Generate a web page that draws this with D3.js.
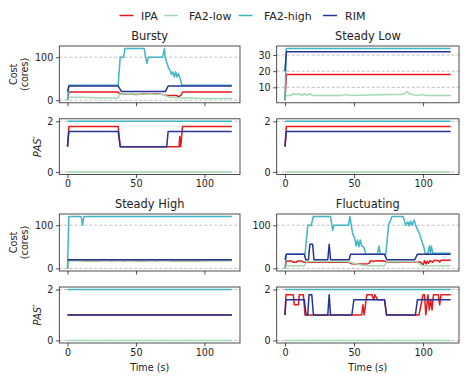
<!DOCTYPE html>
<html>
<head>
<meta charset="utf-8">
<script src="https://cdn.jsdelivr.net/npm/d3@7"></script>
<style>
  body { margin: 0; background: #fff; }
  svg { font-family: "DejaVu Sans", sans-serif; }
</style>
</head>
<body>
<div id="chart"></div>
<script>
// methods, colours, titles, ticks
const methods = ["IPA", "FA2-low", "FA2-high", "RIM"];
const methodColors = ["#e41a1c", "#a1dab4", "#41b6c4", "#253494"];
const scenarioTitles = ["Bursty", "Steady Low", "Steady High", "Fluctuating"];
const timeTicks = [0, 50, 100];
const costTicks = [0, 100];
const costTicksSteadyLow = [10, 20, 30];
const pasTicks = [0, 2];

// [time (s), value] pairs
// Bursty
const burstyCostIPA = [[0,1],[1,19],[37,19],[38,15],[42,14],[46,15],[50,13],[55,15],[60,14],[65,15],[70,13],[72,11],[80,11],[81,7],[82,10],[83,12],[84,19],[120,19]];
const burstyCostLow = [[0,0],[1,7],[10,7],[20,6],[30,5],[37,5],[38,14],[45,15],[55,14],[65,14],[70,13],[74,7],[80,6],[88,5],[100,4],[120,4]];
const burstyCostHigh = [[0,0],[1,35],[37,35],[38.5,100],[41,100],[42,120],[56,120],[57,100],[58,86],[59,100],[69.5,100],[70.8,120],[71.3,100],[72.5,88],[73.7,76],[75,69],[76,60],[77,66],[78,54],[79,66],[80,54],[81,62],[82.3,50],[83.5,35],[120,35]];
const burstyCostRIM = [[0,20],[1,33],[37,33],[39.5,20],[71.5,20],[73.5,33],[120,33]];
const burstyPasIPA = [[0,1],[1,1.8],[37,1.8],[38.5,1],[81.5,1],[82,1.4],[82.7,1],[84,1.8],[120,1.8]];
const burstyPasLow = [[0,0],[120,0]];
const burstyPasHigh = [[0,2],[120,2]];
const burstyPasRIM = [[0,1],[1,1.6],[37,1.6],[38.5,1],[72.5,1],[73.5,1.6],[120,1.6]];

// Steady Low
const steadyLowCostIPA = [[0,2],[1,18],[120,18]];
const steadyLowCostLow = [[0,3],[1,5],[4,5],[6,6],[8,5.5],[10,6],[12,5],[14,6],[16,5],[18,6],[20,5],[40,5],[45,5.5],[47,5],[60,5.2],[78,5.5],[85,5.5],[87,6.5],[88.5,7.5],[90,6],[92,5.5],[96,5],[100,5.5],[102,5],[120,5]];
const steadyLowCostHigh = [[0,2],[1,34],[120,34]];
const steadyLowCostRIM = [[0,20],[1,32],[120,32]];
const steadyLowPasIPA = [[0,1],[1,1.8],[120,1.8]];
const steadyLowPasLow = [[0,0],[120,0]];
const steadyLowPasHigh = [[0,2],[120,2]];
const steadyLowPasRIM = [[0,1],[1,1.6],[120,1.6]];

// Steady High
const steadyHighCostIPA = [[0,0],[1,19],[10,19],[11,17],[23,17],[24,19],[31,19],[31.5,17],[33,17],[33.5,19],[39.5,19],[40,17],[42,17],[42.5,19],[49,19],[49.5,17],[58,17],[58.5,19],[64,19],[64.5,17],[66,17],[66.5,19],[75,19],[75.5,17],[97,17],[97.5,19],[120,19]];
const steadyHighCostLow = [[0,0],[1,17],[120,17]];
const steadyHighCostHigh = [[0,0],[1,120],[10,120],[11,100],[12,120],[120,120]];
const steadyHighCostRIM = [[0,20],[120,20]];
const steadyHighPasIPA = [[0,1],[120,1]];
const steadyHighPasLow = [[0,0],[120,0]];
const steadyHighPasHigh = [[0,2],[120,2]];
const steadyHighPasRIM = [[0,1],[120,1]];

// Fluctuating
const flucCostIPA = [[0,0],[1,17],[5,17],[6,14],[8,14],[9,17],[12,17],[13,15],[15,14],[20,15],[30,14],[40,15],[46,14],[48,11],[52,10],[56,10],[60,11],[61,12],[62,18],[64,16],[66,18],[68,17],[70,18],[72,17],[74,15],[95,15],[98,15],[100,8],[101,18],[102,10],[103,17],[104,12],[105,18],[107,14],[108,19],[111,18],[112,15],[113,19],[120,19]];
const flucCostLow = [[0,0],[1,6],[14,6],[16,16],[45,16],[50,12],[55,8],[58,6],[72,6],[74,16],[95,16],[98,9],[100,6],[120,6]];
const flucCostHigh = [[0,0],[1,33],[14.5,33],[16.5,100],[19,100],[20.5,120],[33,120],[34.5,88],[35.5,100],[46,100],[47,120],[48,100],[49,80],[50.5,70],[51.5,52],[52.5,66],[53.5,50],[54.5,66],[55.5,52],[57,50],[58.5,33],[67,33],[68,52],[69,33],[73,33],[75,100],[77.5,120],[85.5,120],[87.5,100],[89,108],[90,98],[91,110],[92,100],[93.5,112],[95,96],[97.5,80],[99.3,60],[100.5,50],[101.5,35],[103.5,35],[104.5,52],[105.3,35],[106,52],[107,35],[120,35]];
const flucCostRIM = [[0,20],[1,33],[14,33],[15,20],[17,20],[18,56],[20,56],[21,20],[31,20],[32,56],[33,20],[46.5,20],[47.5,33],[72,33],[73.8,20],[94,20],[95.9,33],[120,33]];
const flucPasIPA = [[0,1],[0.7,1.8],[6,1.8],[6.8,1.4],[9.7,1.4],[10.4,1.8],[13.3,1.8],[14.5,1],[55.5,1],[56.5,1.4],[57.3,1],[59.3,1.8],[63,1.8],[64.2,1.6],[65,1.8],[67,1.6],[72,1.6],[73.5,1],[97,1],[100,1.8],[101,1.8],[102,1],[103.5,1.8],[104.5,1.2],[105.5,1.6],[106.5,1.2],[107.5,1.8],[111,1.8],[112,1.4],[113,1.8],[120,1.8]];
const flucPasLow = [[0,0],[120,0]];
const flucPasHigh = [[0,2],[120,2]];
const flucPasRIM = [[0,1],[0.7,1.6],[14,1.6],[15.3,1],[16.5,1],[17.4,1.8],[19.4,1.8],[20.6,1],[31,1],[32,1.8],[33,1],[48.4,1],[49.9,1.6],[72.1,1.6],[73.6,1],[94.4,1],[95.9,1.6],[120,1.6]];

const scenarios = [
  { title: scenarioTitles[0], col: 0, row: 0, costTicks: costTicks,
    cost: [burstyCostIPA, burstyCostLow, burstyCostHigh, burstyCostRIM],
    pas: [burstyPasIPA, burstyPasLow, burstyPasHigh, burstyPasRIM] },
  { title: scenarioTitles[1], col: 1, row: 0, costTicks: costTicksSteadyLow,
    cost: [steadyLowCostIPA, steadyLowCostLow, steadyLowCostHigh, steadyLowCostRIM],
    pas: [steadyLowPasIPA, steadyLowPasLow, steadyLowPasHigh, steadyLowPasRIM] },
  { title: scenarioTitles[2], col: 0, row: 1, costTicks: costTicks,
    cost: [steadyHighCostIPA, steadyHighCostLow, steadyHighCostHigh, steadyHighCostRIM],
    pas: [steadyHighPasIPA, steadyHighPasLow, steadyHighPasHigh, steadyHighPasRIM] },
  { title: scenarioTitles[3], col: 1, row: 1, costTicks: costTicks,
    cost: [flucCostIPA, flucCostLow, flucCostHigh, flucCostRIM],
    pas: [flucPasIPA, flucPasLow, flucPasHigh, flucPasRIM] }
];

// layout
const width = 465, height = 381;
const colX = [[59.3, 240], [276.7, 459]];
const rowY = [{ cost: [46, 102.8], pas: [118.8, 174.5] },
              { cost: [214, 271], pas: [287, 343] }];
const tickFont = 9.6;

const svg = d3.select("#chart").append("svg")
  .attr("width", width)
  .attr("height", height);

// matplotlib style margins: 5% either side
function padded(lo, hi) {
  const m = (hi - lo) * 0.05;
  return [lo - m, hi + m];
}

function drawPanel(x0, x1, y0, y1, yDomain, yTicks, series, showXLabels) {
  const g = svg.append("g");
  const x = d3.scaleLinear().domain(padded(0, 120)).range([x0, x1]);
  const y = d3.scaleLinear().domain(yDomain).range([y1, y0]);

  // dashed grid
  g.selectAll(".grid")
    .data(yTicks)
    .enter()
    .append("line")
    .attr("x1", x0).attr("x2", x1)
    .attr("y1", d => y(d)).attr("y2", d => y(d))
    .attr("stroke", "#b0b0b0")
    .attr("stroke-width", 0.8)
    .attr("stroke-dasharray", "3,2");

  const line = d3.line().x(d => x(d[0])).y(d => y(d[1]));
  g.selectAll(".series")
    .data(series)
    .enter()
    .append("path")
    .attr("d", d => line(d))
    .attr("fill", "none")
    .attr("stroke", (d, i) => methodColors[i])
    .attr("stroke-width", 1.5)
    .attr("stroke-linejoin", "round");

  // axes
  const xAxis = d3.axisBottom(x).tickValues(timeTicks).tickSize(3.5).tickPadding(2.5);
  if (!showXLabels) xAxis.tickFormat("");
  g.append("g")
    .attr("transform", `translate(0,${y1})`)
    .call(xAxis)
    .call(a => a.select(".domain").remove());

  g.append("g")
    .attr("transform", `translate(${x0},0)`)
    .call(d3.axisLeft(y).tickValues(yTicks).tickFormat(d3.format("~g")).tickSize(3.5).tickPadding(2.5))
    .call(a => a.select(".domain").remove());

  g.selectAll(".tick line").attr("stroke", "#222").attr("stroke-width", 0.8);
  g.selectAll(".tick text")
    .attr("fill", "#222")
    .style("font-size", tickFont + "px")
    .style("font-family", "DejaVu Sans, sans-serif");

  // frame
  g.append("rect")
    .attr("x", x0).attr("y", y0)
    .attr("width", x1 - x0).attr("height", y1 - y0)
    .attr("fill", "none")
    .attr("stroke", "#222")
    .attr("stroke-width", 0.8);
}

scenarios.forEach(s => {
  const [x0, x1] = colX[s.col];
  const r = rowY[s.row];
  const costDomain = s.costTicks === costTicksSteadyLow
    ? padded(d3.min(s.cost.flat(), d => d[1]), d3.max(s.cost.flat(), d => d[1]))
    : padded(0, 120);
  drawPanel(x0, x1, r.cost[0], r.cost[1], costDomain, s.costTicks, s.cost, false);
  drawPanel(x0, x1, r.pas[0], r.pas[1], padded(0, 2), pasTicks, s.pas, true);

  svg.append("text")
    .attr("x", (x0 + x1) / 2)
    .attr("y", r.cost[0] - 6)
    .attr("text-anchor", "middle")
    .style("font-size", "11.4px")
    .attr("fill", "#222")
    .text(s.title);

  if (s.row === 1) {
    svg.append("text")
      .attr("x", (x0 + x1) / 2)
      .attr("y", 371)
      .attr("text-anchor", "middle")
      .style("font-size", tickFont + "px")
      .attr("fill", "#222")
      .text("Time (s)");
  }

  if (s.col === 0) {
    const cy = (r.cost[0] + r.cost[1]) / 2;
    svg.append("text")
      .attr("transform", `translate(16.5,${cy}) rotate(-90)`)
      .attr("text-anchor", "middle")
      .style("font-size", tickFont + "px")
      .attr("fill", "#222")
      .text("Cost");
    svg.append("text")
      .attr("transform", `translate(27.5,${cy}) rotate(-90)`)
      .attr("text-anchor", "middle")
      .style("font-size", tickFont + "px")
      .attr("fill", "#222")
      .text("(cores)");
    const py = (r.pas[0] + r.pas[1]) / 2;
    svg.append("text")
      .attr("transform", `translate(40.5,${py}) rotate(-90)`)
      .attr("text-anchor", "middle")
      .style("font-size", "10px")
      .style("font-style", "italic")
      .attr("fill", "#222")
      .text("PAS\u2032");
  }
});

// legend
const legendLineX = [119.5, 164, 238.5, 323];
const legendTextX = [141, 189, 264, 345];
const legend = svg.append("g");
methods.forEach((m, i) => {
  legend.append("line")
    .attr("x1", legendLineX[i]).attr("x2", legendLineX[i] + 14)
    .attr("y1", 15.5).attr("y2", 15.5)
    .attr("stroke", methodColors[i])
    .attr("stroke-width", 1.5);
  legend.append("text")
    .attr("x", legendTextX[i])
    .attr("y", 19.5)
    .style("font-size", "11px")
    .attr("fill", "#222")
    .text(m);
});
</script>
</body>
</html>
